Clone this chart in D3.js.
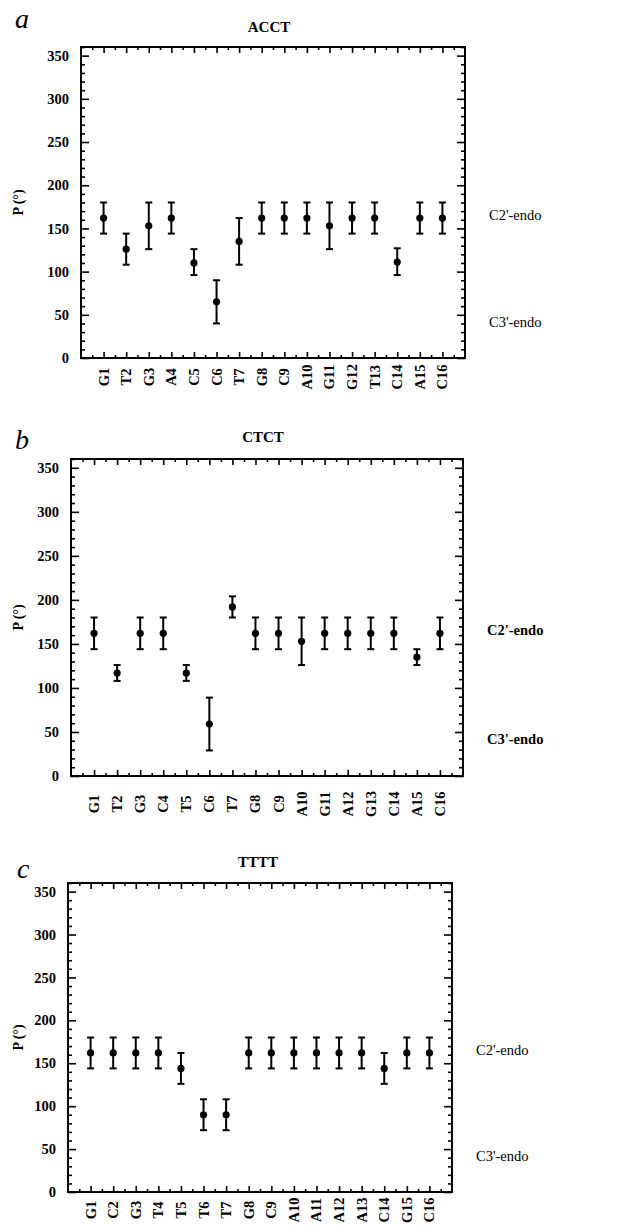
<!DOCTYPE html>
<html><head><meta charset="utf-8">
<script src="https://cdn.jsdelivr.net/npm/d3@7"></script>
<style>body{margin:0;background:#fff}svg{display:block}</style>
</head><body>
<svg id="chart" width="624" height="1226"></svg>
<script>
// ---- data ----
const catsA = ["G1","T2","G3","A4","C5","C6","T7","G8","C9","A10","G11","G12","T13","C14","A15","C16"];
const valA  = [162,126,153,162,110,65,135,162,162,162,153,162,162,111,162,162];
const loA   = [144,108,126,144,96,40,108,144,144,144,126,144,144,96,144,144];
const hiA   = [180,144,180,180,126,90,162,180,180,180,180,180,180,127,180,180];

const catsB = ["G1","T2","G3","C4","T5","C6","T7","G8","C9","A10","G11","A12","G13","C14","A15","C16"];
const valB  = [162,117,162,162,117,59,192,162,162,153,162,162,162,162,135,162];
const loB   = [144,108,144,144,108,29,180,144,144,126,144,144,144,144,126,144];
const hiB   = [180,126,180,180,126,89,204,180,180,180,180,180,180,180,144,180];

const catsC = ["G1","C2","G3","T4","T5","T6","T7","G8","C9","A10","A11","A12","A13","C14","G15","C16"];
const valC  = [162,162,162,162,144,90,90,162,162,162,162,162,162,144,162,162];
const loC   = [144,144,144,144,126,72,72,144,144,144,144,144,144,126,144,144];
const hiC   = [180,180,180,180,162,108,108,180,180,180,180,180,180,162,180,180];

const titles = ["ACCT","CTCT","TTTT"];
const letters = ["a","b","c"];
const yMajor = [0,50,100,150,200,250,300,350];
const yLabel = "P (°)";
const sideLabels = ["C2'-endo","C3'-endo"];
const sideValues = [166,42];

// ---- layout ----
const panels = [
  {cats:catsA, val:valA, lo:loA, hi:hiA, L:81, R:465, T:47, B:358, labDy:19, title:[269,32], letter:[15,28], sideBold:false},
  {cats:catsB, val:valB, lo:loB, hi:hiB, L:71, R:463, T:459, B:776, labDy:28, title:[263,442], letter:[15,449], sideBold:true},
  {cats:catsC, val:valC, lo:loC, hi:hiC, L:68, R:452, T:883, B:1192, labDy:18, title:[258,867], letter:[17,878], sideBold:false}
];

const svg = d3.select("#chart");
const serif = "'Liberation Serif','Times New Roman',serif";

panels.forEach((p, pi) => {
  const g = svg.append("g");
  const x = d3.scaleLinear().domain([0,17]).range([p.L,p.R]);
  const y = d3.scaleLinear().domain([0,360]).range([p.B,p.T]);
  const idx = d3.range(1,17);
  const halfs = d3.range(0.5,17,1);
  const yMinor = d3.range(0,361,10).filter(v => v % 50 !== 0);

  function addAxis(axis, tx, ty) {
    const a = g.append("g").attr("transform",`translate(${tx},${ty})`).call(axis);
    a.select(".domain").remove();
    a.selectAll("line").attr("stroke","#000").attr("stroke-width",1.6);
    return a;
  }
  // bottom
  addAxis(d3.axisBottom(x).tickValues(idx).tickSize(-6).tickFormat(""),0,p.B);
  addAxis(d3.axisBottom(x).tickValues(halfs).tickSize(-3).tickFormat(""),0,p.B);
  // top
  addAxis(d3.axisTop(x).tickValues(idx).tickSize(-6).tickFormat(""),0,p.T);
  addAxis(d3.axisTop(x).tickValues(halfs).tickSize(-3).tickFormat(""),0,p.T);
  // left
  const la = addAxis(d3.axisLeft(y).tickValues(yMajor).tickSize(-8).tickPadding(12),p.L,0);
  la.selectAll("text").attr("font-family",serif).attr("font-weight","bold")
    .attr("font-size",14.5).attr("fill","#000");
  addAxis(d3.axisLeft(y).tickValues(yMinor).tickSize(-4).tickFormat(""),p.L,0);
  // right
  addAxis(d3.axisRight(y).tickValues(yMajor).tickSize(-8).tickFormat(""),p.R,0);
  addAxis(d3.axisRight(y).tickValues(yMinor).tickSize(-4).tickFormat(""),p.R,0);

  // frame
  g.append("rect").attr("x",p.L).attr("y",p.T).attr("width",p.R-p.L).attr("height",p.B-p.T)
    .attr("fill","none").attr("stroke","#000").attr("stroke-width",2);

  // x labels
  g.selectAll("text.xl").data(p.cats).join("text").attr("class","xl")
    .attr("transform",(d,i)=>`translate(${x(i+1)},${p.B+p.labDy}) rotate(-90)`)
    .attr("text-anchor","middle").attr("dominant-baseline","central")
    .attr("font-family",serif).attr("font-weight","bold").attr("font-size",14.5)
    .text(d=>d);

  // error bars
  const pts = p.cats.map((c,i)=>({i:i+1, v:p.val[i], lo:p.lo[i], hi:p.hi[i]}));
  const eb = g.append("g").attr("stroke","#000").attr("stroke-width",2);
  eb.selectAll("line.v").data(pts).join("line").attr("class","v")
    .attr("x1",d=>x(d.i)).attr("x2",d=>x(d.i)).attr("y1",d=>y(d.lo)).attr("y2",d=>y(d.hi));
  eb.selectAll("line.t").data(pts).join("line").attr("class","t")
    .attr("x1",d=>x(d.i)-3.5).attr("x2",d=>x(d.i)+3.5).attr("y1",d=>y(d.hi)).attr("y2",d=>y(d.hi));
  eb.selectAll("line.b").data(pts).join("line").attr("class","b")
    .attr("x1",d=>x(d.i)-3.5).attr("x2",d=>x(d.i)+3.5).attr("y1",d=>y(d.lo)).attr("y2",d=>y(d.lo));
  g.selectAll("circle").data(pts).join("circle")
    .attr("cx",d=>x(d.i)).attr("cy",d=>y(d.v)).attr("r",3.6).attr("fill","#000");

  // y label
  g.append("text").attr("transform",`translate(18,${(p.T+p.B)/2}) rotate(-90)`)
    .attr("text-anchor","middle").attr("dominant-baseline","central")
    .attr("font-family",serif).attr("font-weight","bold").attr("font-size",14).text(yLabel);

  // side labels
  sideLabels.forEach((s,k)=>{
    g.append("text").attr("x",p.R+24).attr("y",y(sideValues[k]))
      .attr("dominant-baseline","central")
      .attr("font-family",serif).attr("font-weight",p.sideBold?"bold":"normal")
      .attr("font-size",14.5).text(s);
  });

  // title
  g.append("text").attr("x",p.title[0]).attr("y",p.title[1]).attr("text-anchor","middle")
    .attr("font-family",serif).attr("font-weight","bold").attr("font-size",15).text(titles[pi]);
  // letter
  g.append("text").attr("x",p.letter[0]).attr("y",p.letter[1])
    .attr("font-family",serif).attr("font-style","italic").attr("font-size",28).text(letters[pi]);
});
</script>
</body></html>
